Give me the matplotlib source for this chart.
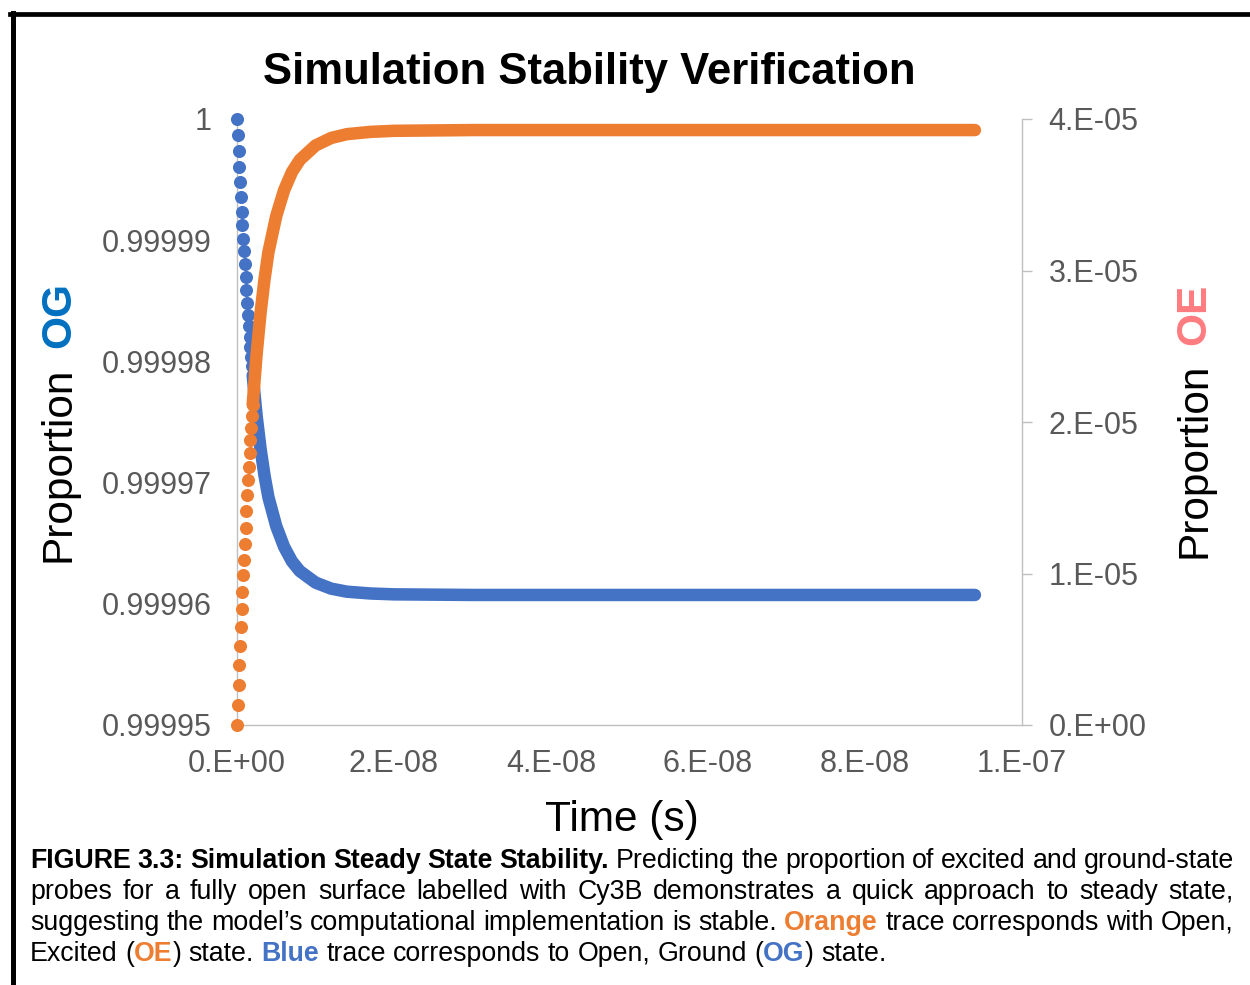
import matplotlib
matplotlib.use("Agg")
import matplotlib.pyplot as plt
from matplotlib.lines import Line2D

# simulated trace, fixed step of 0.1 ns at the start, then coarser
time_s = [0.0, 0.1e-9, 0.2e-9, 0.3e-9, 0.4e-9, 0.5e-9, 0.6e-9, 0.7e-9, 0.8e-9, 0.9e-9,
          1.0e-9, 1.1e-9, 1.2e-9, 1.3e-9, 1.4e-9, 1.5e-9, 1.6e-9, 1.7e-9, 1.8e-9, 1.9e-9,
          2.0e-9, 2.5e-9, 3.0e-9, 3.5e-9, 4.0e-9, 5.0e-9, 6.0e-9, 7.0e-9, 8.0e-9, 10e-9,
          12e-9, 14e-9, 17e-9, 20e-9, 30e-9, 50e-9, 94e-9]

# open, excited state (right axis)
oe = [0.0, 1.33e-6, 2.67e-6, 3.96e-6, 5.22e-6, 6.45e-6, 7.64e-6, 8.77e-6, 9.88e-6, 10.92e-6,
      11.93e-6, 13.00e-6, 14.10e-6, 15.16e-6, 16.14e-6, 17.06e-6, 17.95e-6, 18.80e-6, 19.62e-6, 20.40e-6,
      21.15e-6, 24.5e-6, 27.2e-6, 29.4e-6, 31.2e-6, 33.6e-6, 35.3e-6, 36.5e-6, 37.3e-6, 38.25e-6,
      38.75e-6, 39.0e-6, 39.15e-6, 39.22e-6, 39.27e-6, 39.27e-6, 39.27e-6]

# open, ground state (left axis)
og = [1.0, 0.99999866, 0.99999733, 0.99999604, 0.99999478, 0.99999355, 0.99999236, 0.99999123,
      0.99999012, 0.99998908, 0.99998807, 0.99998700, 0.99998590, 0.99998484, 0.99998386,
      0.99998294, 0.99998205, 0.99998120, 0.99998038, 0.99997960, 0.99997885,
      0.9999755, 0.9999728, 0.9999706, 0.9999688, 0.9999664, 0.9999647, 0.9999635, 0.9999627,
      0.99996175, 0.99996125, 0.999961, 0.99996085, 0.99996078, 0.99996073, 0.99996073, 0.99996073]

og_ticks = [0.99995, 0.99996, 0.99997, 0.99998, 0.99999, 1.0]
og_tick_labels = ["0.99995", "0.99996", "0.99997", "0.99998", "0.99999", "1"]
oe_ticks = [0.0, 1e-5, 2e-5, 3e-5, 4e-5]
oe_tick_labels = ["0.E+00", "1.E-05", "2.E-05", "3.E-05", "4.E-05"]
time_ticks = [0.0, 2e-8, 4e-8, 6e-8, 8e-8, 1e-7]
time_tick_labels = ["0.E+00", "2.E-08", "4.E-08", "6.E-08", "8.E-08", "1.E-07"]

BLUE = "#4472C4"
ORANGE = "#ED7D31"
AXIS_GRAY = "#BFBFBF"
TICK_GRAY = "#595959"
OG_BLUE = "#0070C0"
OE_PINK = "#FF7C80"

plt.rcParams["font.family"] = "Liberation Sans"

W, H = 1250, 985


def fx(x):
    return x / W


def fy(y):
    return 1 - y / H


fig = plt.figure(figsize=(12.5, 9.85), dpi=100)
ax = fig.add_axes([fx(237), fy(725), (1022 - 237) / W, (725 - 119) / H])
ax2 = ax.twinx()

n_dots = 21  # early points that show up as separate dots
ax.plot(time_s[:n_dots], og[:n_dots], "o", ms=9.4, mew=0, color=BLUE, clip_on=False, zorder=3)
ax.plot(time_s[n_dots - 1:], og[n_dots - 1:], "-", lw=9.0, color=BLUE, clip_on=False,
        solid_capstyle="round", solid_joinstyle="round", zorder=3)
ax2.plot(time_s[:n_dots], oe[:n_dots], "o", ms=9.4, mew=0, color=ORANGE, clip_on=False, zorder=3)
ax2.plot(time_s[n_dots - 1:], oe[n_dots - 1:], "-", lw=9.0, color=ORANGE, clip_on=False,
         solid_capstyle="round", solid_joinstyle="round", zorder=3)

ax.set_xlim(0, 1e-7)
ax.set_ylim(0.99995, 1.0)
ax2.set_ylim(0, 4e-5)

ax.set_xticks(time_ticks)
ax.set_xticklabels(time_tick_labels)
ax.set_yticks(og_ticks)
ax.set_yticklabels(og_tick_labels)
ax2.set_yticks(oe_ticks)
ax2.set_yticklabels(oe_tick_labels)

ax.tick_params(axis="x", length=0, pad=17, labelsize=22, labelcolor=TICK_GRAY)
ax.tick_params(axis="y", length=0, pad=18.5, labelsize=22, labelcolor=TICK_GRAY)
ax2.tick_params(axis="y", direction="out", length=7.2, width=1, color=AXIS_GRAY,
                pad=12, labelsize=22, labelcolor=TICK_GRAY)

for s in ["top", "right"]:
    ax.spines[s].set_visible(False)
for s in ["top", "left", "bottom"]:
    ax2.spines[s].set_visible(False)
for sp in [ax.spines["left"], ax.spines["bottom"], ax2.spines["right"]]:
    sp.set_color(AXIS_GRAY)
    sp.set_linewidth(1)

# titles and axis names
fig.text(fx(589), fy(84), "Simulation Stability Verification", ha="center", va="baseline",
         fontsize=31.4, weight="bold")
fig.text(fx(622), fy(831), "Time (s)", ha="center", va="baseline", fontsize=30.5)

lab = dict(rotation=90, rotation_mode="anchor", ha="left", va="baseline", fontsize=30.5)
fig.text(fx(70), fy(562), "Proportion", **lab)
fig.text(fx(70), fy(348), "OG", color=OG_BLUE, weight="bold", **lab)
fig.text(fx(1205), fy(558), "Proportion", **lab)
fig.text(fx(1205), fy(345), "OE", color=OE_PINK, weight="bold", **lab)

# caption below the chart, justified like a thesis paragraph
CAP_FS = 19.25
styles = {"n": ("normal", "black"), "b": ("bold", "black"),
          "o": ("bold", ORANGE), "u": ("bold", BLUE)}
caption = [
    ([("FIGURE 3.3: Simulation Steady State Stability. ", "b"),
      ("Predicting the proportion of excited and ground-state", "n")], True),
    ([("probes for a fully open surface labelled with Cy3B demonstrates a quick approach to steady state,", "n")], True),
    ([("suggesting the model\u2019s computational implementation is stable. ", "n"), ("Orange", "o"),
      (" trace corresponds with Open,", "n")], True),
    ([("Excited (", "n"), ("OE", "o"), (") state. ", "n"), ("Blue", "u"),
      (" trace corresponds to Open, Ground (", "n"), ("OG", "u"), (") state.", "n")], False),
]
baselines = [868, 899, 930, 961]
left_x, right_x = 30, 1234

renderer = fig.canvas.get_renderer()


def width_of(s, weight):
    t = fig.text(0, 0, s, fontsize=CAP_FS, weight=weight)
    w = t.get_window_extent(renderer).width
    t.remove()
    return w


def words_of(segs):
    words, cur = [], []
    for text, st in segs:
        for i, part in enumerate(text.split(" ")):
            if i > 0 and cur:
                words.append(cur)
                cur = []
            if part:
                cur.append((part, st))
    if cur:
        words.append(cur)
    return words


space = width_of("a a", "normal") - width_of("aa", "normal")
for (segs, justify), base in zip(caption, baselines):
    words = words_of(segs)
    sized = [[(p, st, width_of(p, styles[st][0])) for p, st in w] for w in words]
    total = sum(pw for w in sized for _, _, pw in w)
    gap = (right_x - left_x - total) / (len(sized) - 1) if justify else space
    x = left_x
    for w in sized:
        for p, st, pw in w:
            weight, color = styles[st]
            fig.text(fx(x), fy(base), p, fontsize=CAP_FS, weight=weight, color=color,
                     ha="left", va="baseline")
            x += pw
        x += gap

# frame around the figure panel
fig.add_artist(Line2D([fx(10), 1.0], [fy(14.3), fy(14.3)], lw=3.4, color="black",
                      transform=fig.transFigure, solid_capstyle="projecting"))
fig.add_artist(Line2D([fx(12.5), fx(12.5)], [fy(12.5), 0.0], lw=3.6, color="black",
                      transform=fig.transFigure, solid_capstyle="projecting"))

fig.savefig("out.png", dpi=100)
